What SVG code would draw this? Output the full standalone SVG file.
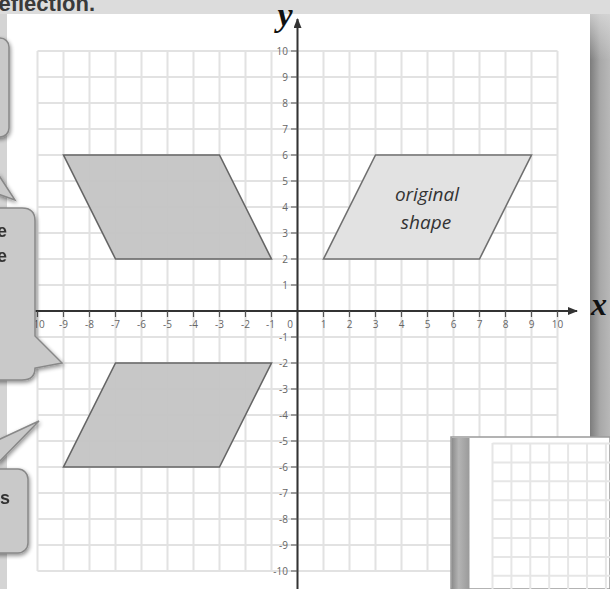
<svg xmlns="http://www.w3.org/2000/svg" width="610" height="589" viewBox="0 0 610 589">
<defs>
<style>
.grid{stroke:#e2e2e2;stroke-width:2;fill:none}
.igrid{stroke:#e6e6e6;stroke-width:2;fill:none}
.axis{stroke:#333;stroke-width:2;fill:none}
.tick{stroke:#555;stroke-width:1.2}
.tl{font-family:"Open Sans","Liberation Sans",sans-serif;font-size:10px;fill:#666}
.tlx{text-anchor:middle}
.tly{text-anchor:end}
.refl{fill:#c4c4c4;stroke:#666;stroke-width:1.6;fill-opacity:0.95}
.orig{fill:#e2e2e2;stroke:#707070;stroke-width:1.6}
.lbl{font-family:"Open Sans","Liberation Sans",sans-serif;font-style:italic;font-size:19px;fill:#333;text-anchor:middle}
.axl{font-family:"Liberation Serif",serif;font-style:italic;font-weight:bold;fill:#111}
.bub{fill:#c9c9c9;stroke:#888;stroke-width:1.5}
.btxt{font-family:"Liberation Sans",sans-serif;font-weight:bold;font-size:18px;fill:#333}
</style>
<linearGradient id="rstrip" x1="0" y1="0" x2="1" y2="0">
<stop offset="0" stop-color="#7c7c7c"/><stop offset="0.5" stop-color="#a8a8a8"/><stop offset="1" stop-color="#b8b8b8"/>
</linearGradient>
<linearGradient id="rfade" x1="0" y1="0" x2="0" y2="1">
<stop offset="0" stop-color="#dcdcdc" stop-opacity="1"/><stop offset="1" stop-color="#dcdcdc" stop-opacity="0"/>
</linearGradient>
<linearGradient id="istrip" x1="0" y1="0" x2="1" y2="0">
<stop offset="0" stop-color="#8a8a8a"/><stop offset="0.4" stop-color="#b4b4b4"/><stop offset="1" stop-color="#9a9a9a"/>
</linearGradient>
<filter id="sh" x="-30%" y="-30%" width="160%" height="160%">
<feGaussianBlur in="SourceAlpha" stdDeviation="2"/><feOffset dx="1" dy="2"/>
<feComponentTransfer><feFuncA type="linear" slope="0.45"/></feComponentTransfer>
<feMerge><feMergeNode/><feMergeNode in="SourceGraphic"/></feMerge>
</filter>
<marker id="arr" markerWidth="10" markerHeight="8" refX="9" refY="4" orient="auto" markerUnits="userSpaceOnUse">
<path d="M0,0 L10,4 L0,8 Z" fill="#333"/>
</marker>
</defs>

<g id="background">
<rect x="0" y="0" width="610" height="589" fill="#dcdcdc"/>
<rect x="7" y="14" width="583" height="575" fill="#ffffff"/>
<rect x="590" y="14" width="20" height="575" fill="url(#rstrip)"/>
<rect x="590" y="0" width="20" height="60" fill="url(#rfade)"/>
<rect x="0" y="14" width="7" height="575" fill="#d4d4d4"/>
<text x="95" y="11" text-anchor="end" font-family="Liberation Sans, sans-serif" font-weight="bold" font-size="22" fill="#3a3a3a">reflection.</text>
</g>

<g id="grid">
<path class="grid" d="M37.5,51V571M63.5,51V571M89.5,51V571M115.5,51V571M141.5,51V571M167.5,51V571M193.5,51V571M219.5,51V571M245.5,51V571M271.5,51V571M297.5,51V571M323.5,51V571M349.5,51V571M375.5,51V571M401.5,51V571M427.5,51V571M453.5,51V571M479.5,51V571M505.5,51V571M531.5,51V571M557.5,51V571"/>
<path class="grid" d="M37.5,51H557.5M37.5,77H557.5M37.5,103H557.5M37.5,129H557.5M37.5,155H557.5M37.5,181H557.5M37.5,207H557.5M37.5,233H557.5M37.5,259H557.5M37.5,285H557.5M37.5,311H557.5M37.5,337H557.5M37.5,363H557.5M37.5,389H557.5M37.5,415H557.5M37.5,441H557.5M37.5,467H557.5M37.5,493H557.5M37.5,519H557.5M37.5,545H557.5M37.5,571H557.5"/>
</g>

<g id="shapes">
<polygon id="reflected-y" class="refl" points="271.5,259 115.5,259 63.5,155 219.5,155"/>
<polygon id="reflected-origin" class="refl" points="63.5,467 219.5,467 271.5,363 115.5,363"/>
<g id="original">
<polygon class="orig" points="323.5,259 479.5,259 531.5,155 375.5,155"/>
<text class="lbl" x="427" y="201">original</text>
<text class="lbl" x="426" y="229">shape</text>
</g>
</g>

<g id="axes">
<line class="axis" x1="35" y1="311" x2="577" y2="311" marker-end="url(#arr)"/>
<line class="axis" x1="297.5" y1="589" x2="297.5" y2="19" marker-end="url(#arr)"/>
<path class="tick" d="M37.5,311V317M63.5,311V317M89.5,311V317M115.5,311V317M141.5,311V317M167.5,311V317M193.5,311V317M219.5,311V317M245.5,311V317M271.5,311V317M323.5,311V317M349.5,311V317M375.5,311V317M401.5,311V317M427.5,311V317M453.5,311V317M479.5,311V317M505.5,311V317M531.5,311V317M557.5,311V317"/>
<path class="tick" d="M291,51H297.5M291,77H297.5M291,103H297.5M291,129H297.5M291,155H297.5M291,181H297.5M291,207H297.5M291,233H297.5M291,259H297.5M291,285H297.5M291,337H297.5M291,363H297.5M291,389H297.5M291,415H297.5M291,441H297.5M291,467H297.5M291,493H297.5M291,519H297.5M291,545H297.5M291,571H297.5"/>
<text class="axl" x="285" y="26" font-size="34" text-anchor="middle">y</text>
<text class="axl" x="591" y="315" font-size="32">x</text>
</g>

<g id="tick-labels" class="tl">
<g class="tlx">
<text x="37.5" y="328">-10</text><text x="63.5" y="328">-9</text><text x="89.5" y="328">-8</text><text x="115.5" y="328">-7</text><text x="141.5" y="328">-6</text><text x="167.5" y="328">-5</text><text x="193.5" y="328">-4</text><text x="219.5" y="328">-3</text><text x="245.5" y="328">-2</text><text x="270.5" y="328">-1</text><text x="290" y="328">0</text>
<text x="323.5" y="328">1</text><text x="349.5" y="328">2</text><text x="375.5" y="328">3</text><text x="401.5" y="328">4</text><text x="427.5" y="328">5</text><text x="453.5" y="328">6</text><text x="479.5" y="328">7</text><text x="505.5" y="328">8</text><text x="531.5" y="328">9</text><text x="557.5" y="328">10</text>
</g>
<g class="tly">
<text x="288" y="54.5">10</text><text x="288" y="80.5">9</text><text x="288" y="106.5">8</text><text x="288" y="132.5">7</text><text x="288" y="158.5">6</text><text x="288" y="184.5">5</text><text x="288" y="210.5">4</text><text x="288" y="236.5">3</text><text x="288" y="262.5">2</text><text x="288" y="288.5">1</text>
<text x="288" y="340.5">-1</text><text x="288" y="366.5">-2</text><text x="288" y="392.5">-3</text><text x="288" y="418.5">-4</text><text x="288" y="444.5">-5</text><text x="288" y="470.5">-6</text><text x="288" y="496.5">-7</text><text x="288" y="522.5">-8</text><text x="288" y="548.5">-9</text><text x="288" y="574.5">-10</text>
</g>
</g>

<g id="bubble-top" filter="url(#sh)">
<rect class="bub" x="-20" y="38" width="29" height="99" rx="9" fill="#d2d2d2"/>
<polygon class="bub" points="-2,174 15,200 -2,194"/>
</g>

<g id="bubble-middle" filter="url(#sh)">
<path class="bub" d="M-20,208 H22 Q35,208 35,221 V336 L62,363 L35,368 Q35,380 22,380 H-20 Z"/>
<text class="btxt" x="7" y="237" text-anchor="end">e</text>
<text class="btxt" x="7" y="262" text-anchor="end">e</text>
</g>

<g id="bubble-bottom" filter="url(#sh)">
<polygon class="bub" points="-2,440 39,421 -2,463"/>
<rect class="bub" x="-20" y="469" width="48" height="84" rx="10"/>
<text class="btxt" x="10" y="504" text-anchor="end">es</text>
</g>

<g id="inset">
<rect x="451" y="437" width="159" height="152" fill="#ffffff" stroke="#9a9a9a" stroke-width="1.5"/>
<rect x="451.5" y="438" width="18" height="151" fill="url(#istrip)"/>
<path class="igrid" d="M492.5,443V589M511.4,443V589M530.3,443V589M549.2,443V589M568.1,443V589M587,443V589M605.9,443V589"/>
<path class="igrid" d="M492.5,443.5H610M492.5,462.4H610M492.5,481.3H610M492.5,500.2H610M492.5,519.1H610M492.5,538H610M492.5,556.9H610M492.5,575.8H610"/>
</g>
</svg>
